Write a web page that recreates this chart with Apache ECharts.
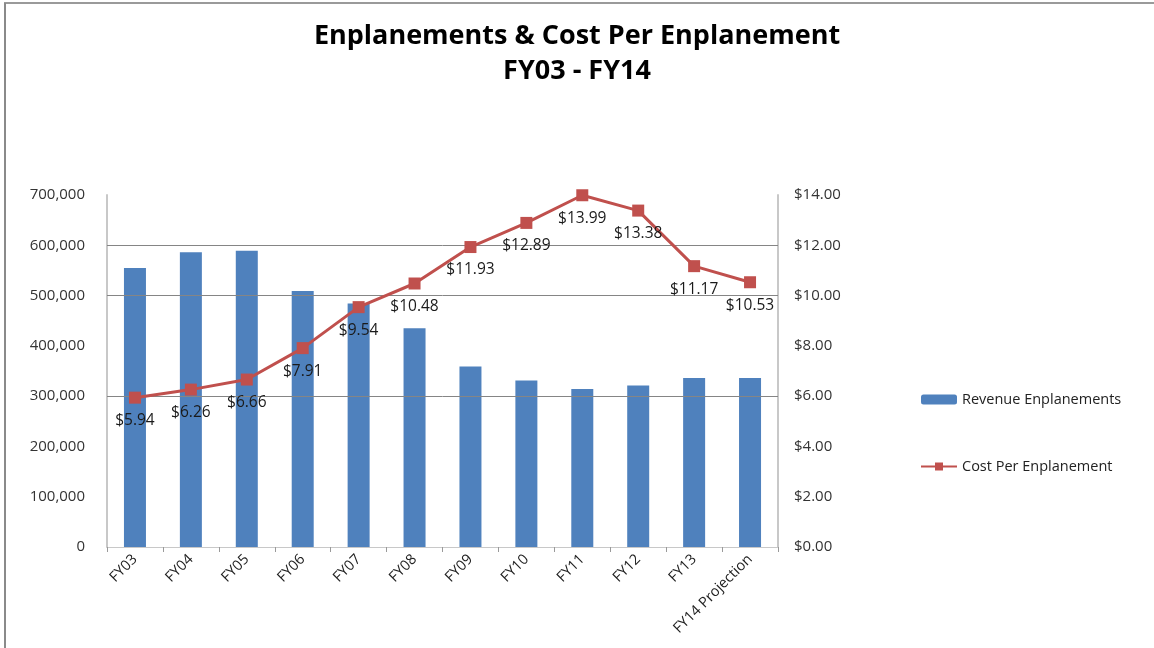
<!DOCTYPE html>
<html>
<head>
<meta charset="utf-8">
<script src="https://cdn.jsdelivr.net/npm/echarts@6/dist/echarts.min.js"></script>
<style>
html,body{margin:0;padding:0;background:#fff;}
#chart{width:1154px;height:648px;}
</style>
</head>
<body>
<div id="chart"></div>
<script>
const categories = ['FY03','FY04','FY05','FY06','FY07','FY08','FY09','FY10','FY11','FY12','FY13','FY14 Projection'];
const enplanements = [555000, 586000, 589000, 509000, 484000, 435000, 359000, 331000, 314000, 321000, 336000, 336000];
const costPerEnplanement = [5.94, 6.26, 6.66, 7.91, 9.54, 10.48, 11.93, 12.89, 13.99, 13.38, 11.17, 10.53];
const gridValues = [300000, 500000, 600000];
const titleLines = ['Enplanements & Cost Per Enplanement', 'FY03 - FY14'];

const FONT = '"Open Sans", "Liberation Sans", sans-serif';
const chart = echarts.init(document.getElementById('chart'));
chart.setOption({
  animation: false,
  backgroundColor: '#fff',
  textStyle: { fontFamily: FONT },
  title: {
    text: titleLines.join('\n'),
    left: 'center',
    top: 14,
    textStyle: { fontSize: 27, fontWeight: 'bold', color: '#000', lineHeight: 35, fontFamily: FONT }
  },
  graphic: [
    { type: 'line', shape: { x1: 4, y1: 3, x2: 1154, y2: 3 }, style: { stroke: '#9a9a9a', lineWidth: 2 } },
    { type: 'line', shape: { x1: 5, y1: 3, x2: 5, y2: 648 }, style: { stroke: '#8a8a8a', lineWidth: 2 } }
  ],
  legend: {
    orient: 'vertical',
    left: 915,
    top: 387,
    itemGap: 52,
    itemWidth: 36,
    itemHeight: 10,
    textStyle: { fontSize: 14.5, color: '#222', fontFamily: FONT },
    data: ['Revenue Enplanements', 'Cost Per Enplanement']
  },
  grid: { left: 107, right: 376, top: 195, bottom: 101, containLabel: false },
  xAxis: {
    type: 'category',
    data: categories,
    boundaryGap: true,
    axisLine: { show: true, lineStyle: { color: '#c8c8c8', width: 1 } },
    axisTick: { show: true, alignWithLabel: false, length: 5, lineStyle: { color: '#9a9a9a' } },
    axisLabel: { interval: 0, rotate: 45, fontSize: 14.5, color: '#222', margin: 10, fontFamily: FONT }
  },
  yAxis: [
    {
      type: 'value', min: 0, max: 700000, interval: 100000,
      axisLine: { show: true, lineStyle: { color: '#c8c8c8', width: 2 } },
      axisTick: { show: false },
      splitLine: { show: false },
      axisLabel: {
        fontSize: 15, color: '#333', margin: 22, fontFamily: FONT,
        formatter: v => v.toLocaleString('en-US')
      }
    },
    {
      type: 'value', min: 0, max: 14, interval: 2,
      axisLine: { show: true, lineStyle: { color: '#c8c8c8', width: 2 } },
      axisTick: { show: false },
      splitLine: { show: false },
      axisLabel: {
        fontSize: 15, color: '#333', margin: 16, fontFamily: FONT,
        formatter: v => '$' + v.toFixed(2)
      }
    }
  ],
  series: [
    {
      name: 'Revenue Enplanements',
      type: 'bar',
      yAxisIndex: 0,
      data: enplanements,
      barWidth: 22,
      itemStyle: { color: '#4F81BD' },
      z: 2,
      markLine: {
        silent: true,
        symbol: 'none',
        label: { show: false },
        lineStyle: { color: '#858585', width: 1, type: 'solid' },
        data: gridValues.map(v => ({ yAxis: v }))
      }
    },
    {
      name: 'Cost Per Enplanement',
      type: 'line',
      yAxisIndex: 1,
      data: costPerEnplanement,
      symbol: 'rect',
      symbolSize: 12,
      lineStyle: { color: '#C0504D', width: 3 },
      itemStyle: { color: '#C0504D' },
      z: 5,
      label: {
        show: true,
        position: 'bottom',
        distance: 9,
        fontSize: 15.5,
        color: '#1a1a1a',
        fontFamily: FONT,
        formatter: p => '$' + p.value.toFixed(2)
      }
    }
  ]
});
</script>
</body>
</html>
